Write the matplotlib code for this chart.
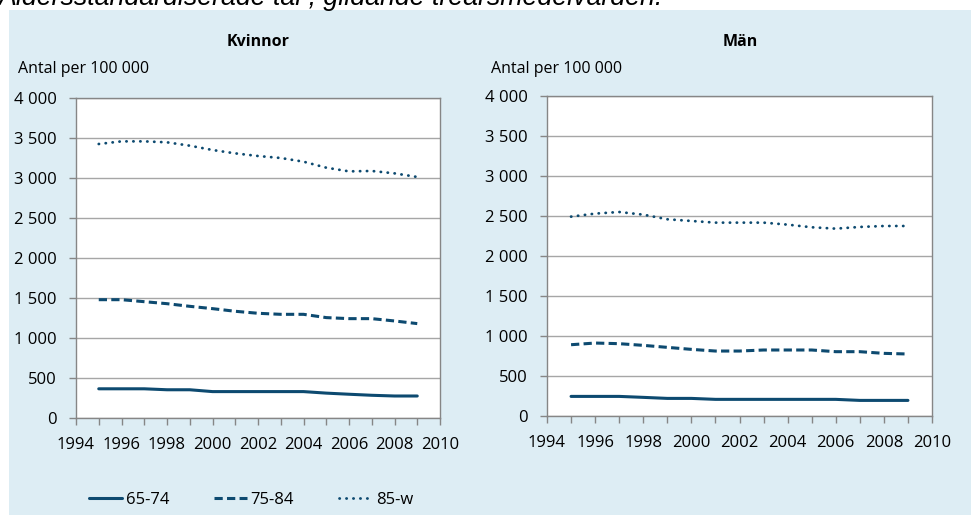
import numpy as np
import matplotlib
matplotlib.use("Agg")
import matplotlib.pyplot as plt
from matplotlib.patches import Rectangle
from matplotlib.ticker import FuncFormatter, MultipleLocator
from matplotlib.lines import Line2D

years = list(range(1995, 2010))

# Kvinnor, antal per 100 000
kv_65_74 = [365, 365, 365, 353, 353, 330, 330, 330, 330, 330, 311, 297, 284, 275, 275]
kv_75_84 = [1479, 1479, 1454, 1429, 1396, 1367, 1334, 1309, 1296, 1296, 1255, 1242, 1242, 1213, 1180]
kv_85_w = [3425, 3458, 3458, 3446, 3404, 3350, 3308, 3275, 3250, 3204, 3129, 3083, 3088, 3058, 3013]

# Män, antal per 100 000
man_65_74 = [245, 245, 245, 233, 220, 220, 208, 208, 208, 208, 208, 208, 195, 195, 195]
man_75_84 = [891, 912, 904, 883, 858, 833, 812, 812, 825, 825, 825, 804, 804, 783, 775]
man_85_w = [2492, 2530, 2550, 2517, 2459, 2438, 2417, 2417, 2417, 2392, 2359, 2342, 2363, 2375, 2375]

age_groups = ["65-74", "75-84", "85-w"]
panel_titles = ["Kvinnor", "Män"]
ylabel = "Antal per 100 000"
main_title = "Åldersstandardiserade tal , glidande treårsmedelvärden."

navy = "#0d4a70"
grid_grey = "#a6a6a6"
axis_grey = "#868686"
panel_blue = "#ddedf4"

styles = [
    dict(linestyle="-", lw=2.2, solid_capstyle="round"),
    dict(linestyle=(0, (2.7, 1.4)), lw=2.2, dash_capstyle="butt"),
    dict(linestyle=(0, (0.1, 2.4)), lw=2.0, dash_capstyle="round"),
]

plt.rcParams["font.family"] = ["Open Sans", "DejaVu Sans"]

fig = plt.figure(figsize=(9.71, 5.25), dpi=100)
fig.patches.append(Rectangle((9 / 971, 1 - 515 / 525), 962 / 971, 505 / 525,
                             transform=fig.transFigure, facecolor=panel_blue,
                             edgecolor="none", zorder=-10))

fig.text(-0.002, 1 - 5 / 525, main_title, fontsize=19.3, style="italic",
         family="Liberation Sans", va="baseline", ha="left")

def thousands(v, pos):
    return f"{int(v):,}".replace(",", " ")

def year_label(v, pos):
    v = int(round(v))
    return str(v) if v % 2 == 0 else ""

boxes = [
    (76 / 971, 1 - 418 / 525, 364 / 971, 320 / 525),
    (547 / 971, 1 - 416 / 525, 385 / 971, 320 / 525),
]
series = [
    [kv_65_74, kv_75_84, kv_85_w],
    [man_65_74, man_75_84, man_85_w],
]
title_x = [258, 740]
label_x = [18, 491]

for box, data, title, tx, lx in zip(boxes, series, panel_titles, title_x, label_x):
    ax = fig.add_axes(box)
    ax.set_facecolor("white")
    for vals, st in zip(data, styles):
        ax.plot(years, vals, color=navy, **st)
    ax.set_xlim(1994, 2010)
    ax.set_ylim(0, 4000)
    ax.yaxis.set_major_locator(MultipleLocator(500))
    ax.xaxis.set_major_locator(MultipleLocator(1))
    ax.yaxis.set_major_formatter(FuncFormatter(thousands))
    ax.xaxis.set_major_formatter(FuncFormatter(year_label))
    ax.grid(axis="y", color=grid_grey, lw=1.0)
    ax.set_axisbelow(True)
    for s in ax.spines.values():
        s.set_color(axis_grey)
        s.set_linewidth(1.0)
    ax.tick_params(axis="both", color=axis_grey, length=5, width=1.0,
                   labelsize=12, labelcolor="black")
    ax.tick_params(axis="y", pad=9)
    ax.tick_params(axis="x", pad=9)
    fig.text(tx / 971, 1 - 42 / 525, title, fontsize=11.5, fontweight="bold",
             ha="center", va="center")
    fig.text(lx / 971, 1 - 69 / 525, ylabel, fontsize=11.5, ha="left", va="center")

handles = [Line2D([], [], color=navy, **st) for st in styles]
fig.legend(handles, age_groups, loc="center", bbox_to_anchor=(251 / 971, 1 - 500 / 525),
           ncol=3, frameon=False, fontsize=12, handlelength=2.0,
           handletextpad=0.2, columnspacing=2.7)

fig.savefig("out.png", dpi=100)
